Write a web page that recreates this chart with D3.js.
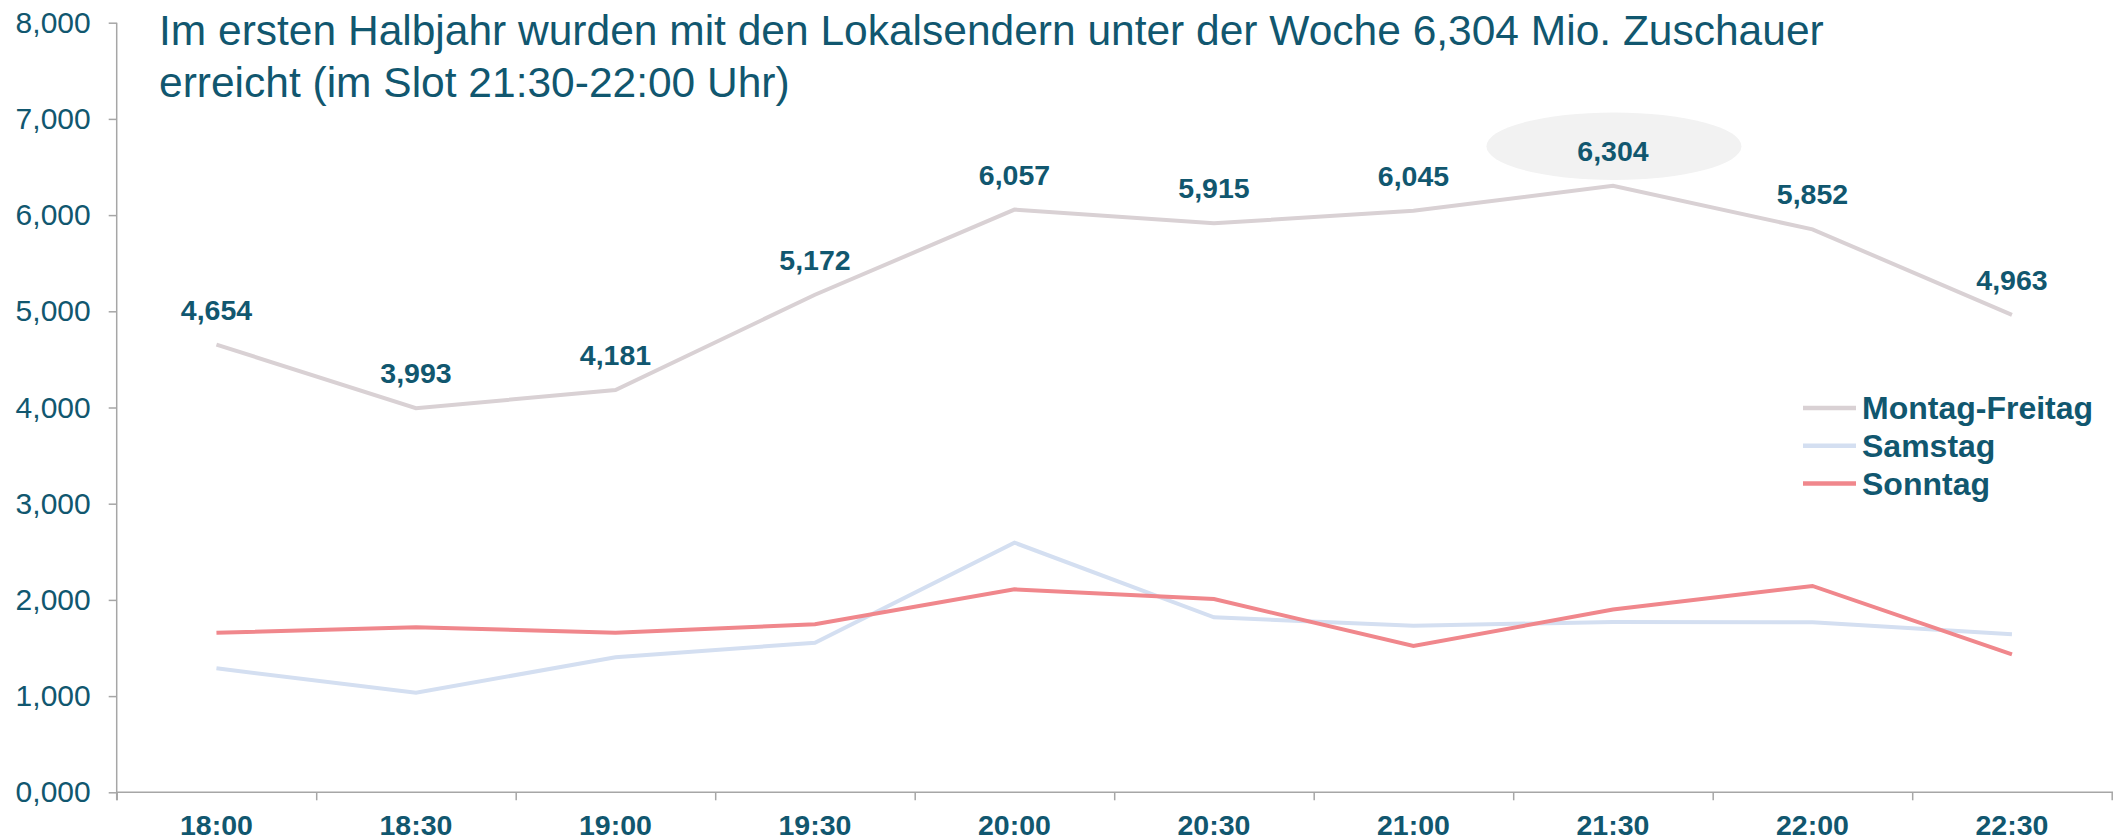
<!DOCTYPE html>
<html>
<head>
<meta charset="utf-8">
<script src="https://cdn.jsdelivr.net/npm/d3@7"></script>
<style>
  html, body { margin: 0; padding: 0; background: #ffffff; }
  svg { display: block; }
  text { font-family: "Liberation Sans", Arial, sans-serif; }
</style>
</head>
<body>
<svg id="chart" width="2113" height="840"></svg>
<script>
// ---- data ----
const categories = ["18:00", "18:30", "19:00", "19:30", "20:00", "20:30", "21:00", "21:30", "22:00", "22:30"];
const montagFreitag = [4.654, 3.993, 4.181, 5.172, 6.057, 5.915, 6.045, 6.304, 5.852, 4.963];
const samstag = [1.289, 1.035, 1.403, 1.555, 2.595, 1.819, 1.732, 1.770, 1.767, 1.642];
const sonntag = [1.659, 1.715, 1.659, 1.746, 2.110, 2.009, 1.521, 1.900, 2.145, 1.434];
const seriesNames = ["Montag-Freitag", "Samstag", "Sonntag"];
const yTicks = [0, 1, 2, 3, 4, 5, 6, 7, 8];
const highlightCategory = "21:30";
const titleLines = [
  "Im ersten Halbjahr wurden mit den Lokalsendern unter der Woche 6,304 Mio. Zuschauer",
  "erreicht (im Slot 21:30-22:00 Uhr)"
];

(function () {
// ---- styles ----
const textColor = "#11576f";
const axisColor = "#a6a6a6";
const seriesColors = ["#d9d1d4", "#d4dff1", "#f0878c"];

const loc = d3.formatLocale({ decimal: ",", thousands: ".", grouping: [3], currency: ["", "€"] });
const fmt = loc.format(".3f");

const svg = d3.select("#chart");

const pLeft = 116.7, pRight = 2111.7, pTop = 22.7, pBottom = 792.3;

const x = d3.scaleBand().domain(categories).range([pLeft, pRight]).paddingInner(0).paddingOuter(0);
const xc = c => x(c) + x.bandwidth() / 2;
const xBound = d3.scaleLinear().domain([0, categories.length]).range([pLeft, pRight]);
const y = d3.scaleLinear().domain([0, 8]).range([pBottom, pTop]);

// ---- highlight ellipse ----
const hi = categories.indexOf(highlightCategory);
svg.append("ellipse")
  .attr("cx", xc(highlightCategory) + 1)
  .attr("cy", y(montagFreitag[hi]) - 39.6)
  .attr("rx", 127.5)
  .attr("ry", 33.7)
  .attr("fill", "#f2f2f2");

// ---- axes ----
const yAxis = svg.append("g")
  .attr("transform", `translate(${pLeft},0)`)
  .call(d3.axisLeft(y).tickValues(yTicks).tickSize(8).tickPadding(18).tickFormat(fmt));
yAxis.select(".domain").attr("d", `M0,${pTop}V${pBottom + 8}`);
yAxis.selectAll("path, line").attr("stroke", axisColor).attr("stroke-width", 1.5);
yAxis.selectAll("text")
  .attr("fill", textColor)
  .attr("font-size", 30)
  .attr("font-family", '"Liberation Sans", Arial, sans-serif');

const xTicks = svg.append("g")
  .attr("transform", `translate(0,${pBottom})`)
  .call(d3.axisBottom(xBound).tickValues(d3.range(0, categories.length + 1)).tickSize(8).tickFormat(""));
xTicks.select(".domain").attr("d", `M${pLeft},0H2113`);
xTicks.selectAll("path, line").attr("stroke", axisColor).attr("stroke-width", 1.5);

const xLabels = svg.append("g")
  .attr("transform", `translate(0,${pBottom})`)
  .call(d3.axisBottom(x).tickSize(0).tickPadding(0));
xLabels.select(".domain").remove();
xLabels.selectAll("text")
  .attr("fill", textColor)
  .attr("font-size", 28.5)
  .attr("font-weight", "bold")
  .attr("font-family", '"Liberation Sans", Arial, sans-serif')
  .attr("dy", null)
  .attr("y", 43);

// ---- lines ----
const seriesData = [montagFreitag, samstag, sonntag];
const line = d3.line().x((d, i) => xc(categories[i])).y(d => y(d));
seriesData.forEach((vals, k) => {
  svg.append("path")
    .datum(vals)
    .attr("d", line)
    .attr("fill", "none")
    .attr("stroke", seriesColors[k])
    .attr("stroke-width", 4);
});

// ---- data labels (Montag-Freitag) ----
svg.append("g").selectAll("text")
  .data(montagFreitag)
  .join("text")
  .attr("x", (d, i) => xc(categories[i]))
  .attr("y", d => y(d) - 25)
  .attr("text-anchor", "middle")
  .attr("fill", textColor)
  .attr("font-size", 28.5)
  .attr("font-weight", "bold")
  .text(d => fmt(d));

// ---- legend ----
const legend = svg.append("g").attr("transform", "translate(1803,408)");
seriesNames.forEach((name, k) => {
  const g = legend.append("g").attr("transform", `translate(0,${k * 37.8})`);
  g.append("line")
    .attr("x1", 0).attr("x2", 53)
    .attr("y1", 0).attr("y2", 0)
    .attr("stroke", seriesColors[k])
    .attr("stroke-width", 4.5);
  g.append("text")
    .attr("x", 59)
    .attr("y", 11)
    .attr("fill", textColor)
    .attr("font-size", 32)
    .attr("font-weight", "bold")
    .text(name);
});

// ---- title ----
svg.append("g").selectAll("text")
  .data(titleLines)
  .join("text")
  .attr("x", 159)
  .attr("y", (d, i) => 45 + i * 52)
  .attr("fill", textColor)
  .attr("font-size", 42.5)
  .text(d => d);
})();
</script>
</body>
</html>
